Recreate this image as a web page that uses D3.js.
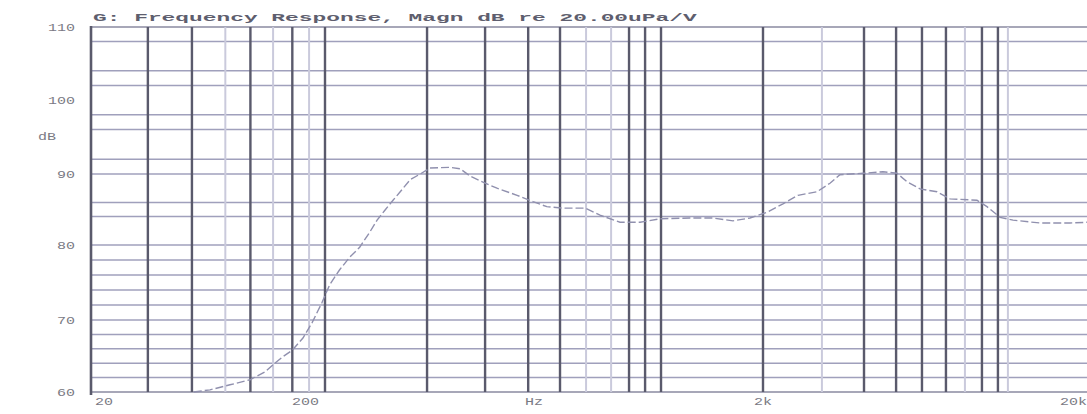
<!DOCTYPE html>
<html>
<head>
<meta charset="utf-8">
<script src="https://cdn.jsdelivr.net/npm/d3@7"></script>
<style>
  html, body { margin: 0; padding: 0; background: #fff; }
  svg { display: block; }
</style>
</head>
<body>
<svg id="chart" width="1087" height="414"></svg>
<script>
// ---- data ----
const titleText = "G: Frequency Response, Magn dB re 20.00uPa/V";
const yTickValues = [110, 100, 90, 80, 70, 60];
const yTickLabels = ["110", "100", "90", "80", "70", "60"];
const yUnit = "dB";
const xTickFreqs = [20, 200, 600, 2000, 20000];
const xTickLabels = ["20", "200", "Hz", "2k", "20k"];
const hGridDb = [110, 108, 104, 102, 98, 96, 92, 90, 86, 84, 80, 78, 76, 74, 72, 70, 68, 66, 64, 62, 60];
const vGridDark = [35, 54, 96, 145, 200, 342, 464, 582, 688, 989, 1076, 1170, 2000, 4100, 5150, 6190, 7340, 9480, 10620];
const vGridLight = [75, 120, 171, 789, 900, 3040, 8400, 11400];
const respFreq = [55, 64.5, 78.5, 95.6, 111, 120, 132, 145, 161, 176, 187, 194, 205, 216, 228, 240, 253, 263, 274, 286, 297, 313, 330, 347, 386, 407, 429, 464, 494, 549, 597, 642, 699, 785, 849, 943, 1048, 1164, 1362, 1538, 1708, 1868, 2057, 2305, 2565, 2936, 3219, 3455, 4072, 4692, 5184, 5566, 6105, 6888, 7555, 9152, 9826, 10780, 11818, 14322, 17724, 20000];
const respDb = [60.0, 60.3, 61.0, 61.7, 62.8, 63.8, 64.9, 65.8, 67.5, 69.6, 71.3, 72.3, 74.7, 76.7, 78.4, 79.7, 81.8, 83.5, 84.9, 86.3, 87.5, 89.2, 90.0, 90.8, 90.9, 90.7, 89.7, 88.7, 88.0, 87.0, 86.1, 85.4, 85.2, 85.2, 84.2, 83.2, 83.2, 83.7, 83.8, 83.8, 83.4, 83.8, 84.6, 85.8, 87.0, 87.5, 88.7, 89.9, 90.1, 90.3, 90.1, 88.9, 87.9, 87.5, 86.5, 86.3, 85.4, 83.9, 83.5, 83.1, 83.1, 83.2];

// ---- scales ----
const x = d3.scaleLog().domain([20, 200, 2000, 20000]).range([91, 325, 763, 1087]);
const y = d3.scaleLinear().domain([60, 70, 80, 90, 100, 110]).range([392, 320, 245, 174, 100, 27]);

const svg = d3.select("#chart");
const mono = "'Liberation Mono', 'DejaVu Sans Mono', monospace";

// horizontal grid
svg.append("g").selectAll("line").data(hGridDb).join("line")
  .attr("x1", x(20)).attr("x2", x(20000))
  .attr("y1", d => y(d)).attr("y2", d => y(d))
  .attr("stroke", d => (d === 60 || d === 110) ? "#8a8aa0" : "#a0a0bc")
  .attr("stroke-width", 1.5);

// light vertical grid
svg.append("g").selectAll("line").data(vGridLight).join("line")
  .attr("x1", d => x(d)).attr("x2", d => x(d))
  .attr("y1", y(110)).attr("y2", y(60))
  .attr("stroke", "#cacadc").attr("stroke-width", 2);

// dark vertical grid
svg.append("g").selectAll("line").data(vGridDark).join("line")
  .attr("x1", d => x(d)).attr("x2", d => x(d))
  .attr("y1", y(110)).attr("y2", y(60))
  .attr("stroke", "#5a5a6c").attr("stroke-width", 2.4);

// left axis
svg.append("line")
  .attr("x1", x(20)).attr("x2", x(20))
  .attr("y1", y(110) - 1).attr("y2", y(60) + 3)
  .attr("stroke", "#5a5a6c").attr("stroke-width", 2.6);

// response curve
const pts = respFreq.map((f, i) => [f, respDb[i]]);
svg.append("path")
  .datum(pts)
  .attr("fill", "none")
  .attr("stroke", "#9090ae")
  .attr("stroke-width", 1.4)
  .attr("stroke-dasharray", "8,3")
  .attr("d", d3.line().x(d => x(d[0])).y(d => y(d[1])));

// helper: horizontally stretched text (wide, low glyphs as in the scan)
function stretched(g, px, py, sx, anchor, size, color, weight, txt) {
  const t = g.append("text")
    .attr("transform", `translate(${px},${py}) scale(${sx},1)`)
    .attr("text-anchor", anchor)
    .attr("font-family", mono).attr("font-size", size)
    .attr("font-weight", weight)
    .attr("fill", color)
    .text(txt);
  return t;
}

// title
stretched(svg, 93, 21, 2.08, "start", 11, "#5e5e6e", "bold", titleText);

// y tick labels
const yl = svg.append("g");
yTickValues.forEach((d, i) => stretched(yl, 75, y(d) + 4, 1.5, "end", 10, "#7a7a84", "normal", yTickLabels[i]));
stretched(yl, 38, y(95) + 3, 1.5, "start", 10, "#7a7a84", "normal", yUnit);

// x tick labels
const xAnchors = ["start", "end", "middle", "middle", "end"];
const xOffsets = [4, -6, 0, 0, 0];
const xl = svg.append("g");
xTickFreqs.forEach((d, i) => stretched(xl, x(d) + xOffsets[i], 405, 1.5, xAnchors[i], 10, "#7a7a84", "normal", xTickLabels[i]));
</script>
</body>
</html>
